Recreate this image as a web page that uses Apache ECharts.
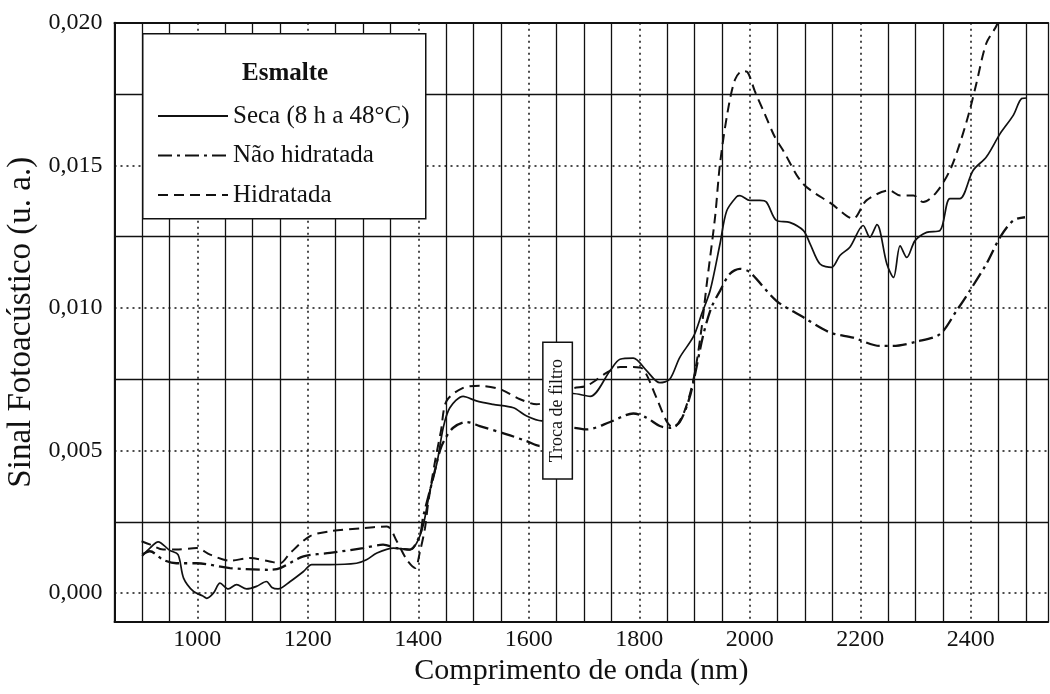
<!DOCTYPE html>
<html>
<head>
<meta charset="utf-8">
<script src="https://cdn.jsdelivr.net/npm/echarts@6/dist/echarts.min.js"></script>
<style>
html,body{margin:0;padding:0;background:#fff;}
#chart{width:1050px;height:694px;}
</style>
</head>
<body>
<div id="chart"></div>
<script>
// ---- data ----
const seriesNames = ['Seca (8 h a 48°C)', 'Não hidratada', 'Hidratada'];
const legendTitle = 'Esmalte';
const noteText = 'Troca de filtro';
const notePos = [1652, 0.0064];

const secaX = [900, 915, 929, 950, 965, 975, 993, 1010, 1017, 1029, 1041, 1056, 1071, 1089, 1107, 1125, 1135, 1146, 1168, 1192, 1207, 1240, 1288, 1306, 1325, 1355, 1385, 1397, 1409, 1421, 1434, 1445, 1457, 1481, 1505, 1535, 1572, 1596, 1623, 1650, 1680, 1711, 1747, 1765, 1789, 1813, 1837, 1855, 1873, 1898, 1913, 1928, 1946, 1958, 1976, 1982, 2000, 2018, 2030, 2048, 2072, 2097, 2109, 2127, 2148, 2163, 2181, 2205, 2217, 2230, 2248, 2260, 2272, 2284, 2299, 2320, 2344, 2362, 2380, 2404, 2428, 2453, 2477, 2492, 2501];
const secaY = [0.0013, 0.0016, 0.0018, 0.0015, 0.00135, 0.00053, 0.00006, -0.0001, -0.00018, 0.0, 0.00035, 0.00015, 0.0003, 0.00015, 0.00024, 0.00041, 0.0002, 0.00015, 0.00041, 0.00076, 0.001, 0.001, 0.00105, 0.00117, 0.00141, 0.00158, 0.00153, 0.00176, 0.0024, 0.0036, 0.0046, 0.0058, 0.0065, 0.0069, 0.00674, 0.00662, 0.0065, 0.00621, 0.00604, 0.0065, 0.007, 0.0069, 0.0078, 0.0082, 0.00824, 0.0078, 0.00738, 0.0075, 0.00826, 0.009, 0.0098, 0.0106, 0.01225, 0.0134, 0.0139, 0.01394, 0.01377, 0.01377, 0.01371, 0.01307, 0.013, 0.01271, 0.01225, 0.01154, 0.01142, 0.01184, 0.01213, 0.01289, 0.01248, 0.01292, 0.01154, 0.01107, 0.01218, 0.01177, 0.01236, 0.01265, 0.01271, 0.01383, 0.01383, 0.01482, 0.01529, 0.01611, 0.01676, 0.01734, 0.01736];

const naoX = [900, 914, 938, 962, 999, 1059, 1131, 1150, 1192, 1240, 1300, 1336, 1361, 1385, 1403, 1409, 1425, 1439, 1448, 1463, 1487, 1511, 1560, 1596, 1620, 1650, 1680, 1705, 1747, 1789, 1813, 1837, 1855, 1873, 1890, 1900, 1915, 1930, 1946, 1964, 1982, 2000, 2048, 2097, 2145, 2187, 2235, 2259, 2302, 2344, 2374, 2398, 2428, 2453, 2477, 2498];
const naoY = [0.00135, 0.00147, 0.00117, 0.00105, 0.00105, 0.00088, 0.00082, 0.00088, 0.00129, 0.00141, 0.00158, 0.0017, 0.00158, 0.00153, 0.00205, 0.0027, 0.0039, 0.005, 0.0054, 0.0058, 0.006, 0.00586, 0.00557, 0.00533, 0.00516, 0.0055, 0.0058, 0.00574, 0.006, 0.0063, 0.00615, 0.00586, 0.0058, 0.006, 0.0068, 0.0076, 0.009, 0.01, 0.0106, 0.0112, 0.01137, 0.01125, 0.01025, 0.00967, 0.00914, 0.00896, 0.00867, 0.00867, 0.00882, 0.00908, 0.0099, 0.0106, 0.01154, 0.01248, 0.01307, 0.01318];

const hidX = [899, 915, 938, 962, 999, 1023, 1059, 1095, 1131, 1150, 1168, 1204, 1240, 1300, 1343, 1361, 1379, 1394, 1403, 1412, 1418, 1430, 1441, 1451, 1481, 1511, 1548, 1584, 1614, 1650, 1680, 1705, 1741, 1765, 1789, 1807, 1831, 1849, 1861, 1880, 1898, 1912, 1922, 1937, 1946, 1960, 1973, 1986, 1996, 2009, 2027, 2045, 2060, 2096, 2148, 2187, 2211, 2253, 2272, 2296, 2314, 2338, 2362, 2380, 2398, 2410, 2428, 2447, 2460];
const hidY = [0.00182, 0.0017, 0.00153, 0.00153, 0.00158, 0.00135, 0.00114, 0.00123, 0.00111, 0.00105, 0.00141, 0.002, 0.00217, 0.00228, 0.00234, 0.00182, 0.00117, 0.00088, 0.00147, 0.00228, 0.0032, 0.0046, 0.0057, 0.00674, 0.0072, 0.00727, 0.00715, 0.0068, 0.00662, 0.0069, 0.00718, 0.00727, 0.00773, 0.00793, 0.00793, 0.00785, 0.00685, 0.00604, 0.0058, 0.0063, 0.0075, 0.0092, 0.01084, 0.01318, 0.01506, 0.0169, 0.018, 0.0183, 0.01826, 0.0176, 0.0168, 0.016, 0.01553, 0.01436, 0.01365, 0.01313, 0.01377, 0.01412, 0.01394, 0.01394, 0.01371, 0.01406, 0.01482, 0.01576, 0.01693, 0.01787, 0.01928, 0.01992, 0.0207];

// axis settings
const xMin = 850, xMax = 2540, xStep = 50, xLabelStep = 200;
const yMin = -0.001, yMax = 0.020, yStep = 0.00025, yLabelStep = 0.005, yMinorStep = 0.0025;

// ---- build ----
const zip = (xs, ys) => xs.map((x, i) => [x, ys[i]]);
const INK = '#111';
const NONE = 'rgba(0,0,0,0)';
const FONT = 'Liberation Serif';

// colour cycles for split lines (ticks counted from min)
const xPeriod = xLabelStep / xStep; // 4
const xOffset = Math.round(((Math.ceil(xMin / xLabelStep) * xLabelStep) - xMin) / xStep) % xPeriod;
const xSolidColors = [], xDotColors = [];
for (let i = 0; i < xPeriod; i++) {
  xSolidColors.push(i === xOffset ? NONE : INK);
  xDotColors.push(i === xOffset ? INK : NONE);
}
const yPeriod = Math.round(yLabelStep / yStep); // 20
const yZeroIdx = Math.round((0 - yMin) / yStep); // 4
const yDotColors = [], ySolidColors = [];
for (let i = 0; i < yPeriod; i++) {
  yDotColors.push(i === yZeroIdx % yPeriod ? INK : NONE);
  ySolidColors.push(i === (yZeroIdx + Math.round(yMinorStep / yStep)) % yPeriod ? INK : NONE);
}

const chart = echarts.init(document.getElementById('chart'), null, {renderer: 'canvas'});

const lineBase = {
  type: 'line', showSymbol: false, symbol: 'none', smooth: 0.3,
  xAxisIndex: 0, yAxisIndex: 0, clip: true, animation: false
};

const option = {
  backgroundColor: '#fff',
  animation: false,
  textStyle: {fontFamily: FONT, color: INK},
  grid: {left: 114.5, top: 22.7, right: 1.8, bottom: 72.3, outerBoundsMode: 'none', containLabel: false},
  xAxis: [{
    type: 'value', position: 'bottom', min: xMin, max: xMax, interval: xStep,
    axisLine: {show: true, onZero: false, lineStyle: {color: INK, width: 2}},
    axisTick: {show: false},
    axisLabel: {
      fontFamily: FONT, fontSize: 24, color: INK, margin: 6,
      formatter: v => (Math.round(v) % xLabelStep === 0 ? String(Math.round(v)) : '')
    },
    splitLine: {show: true, lineStyle: {color: xSolidColors, width: 1.3, type: 'solid'}},
    name: 'Comprimento de onda (nm)', nameLocation: 'middle', nameGap: 26,
    nameTextStyle: {fontFamily: FONT, fontSize: 30, color: INK}
  }, {
    type: 'value', position: 'top', min: xMin, max: xMax, interval: xStep,
    axisLine: {show: true, onZero: false, lineStyle: {color: INK, width: 2}},
    axisTick: {show: false}, axisLabel: {show: false},
    splitLine: {show: true, lineStyle: {color: xDotColors, width: 1.5, type: [2, 4]}}
  }],
  yAxis: [{
    type: 'value', position: 'left', min: yMin, max: yMax, interval: yStep,
    axisLine: {show: true, onZero: false, lineStyle: {color: INK, width: 2}},
    axisTick: {show: false},
    axisLabel: {
      fontFamily: FONT, fontSize: 24, color: INK, margin: 12,
      formatter: v => {
        const k = Math.round(v * 1e5);
        return (k % Math.round(yLabelStep * 1e5) === 0) ? (k / 1e5).toFixed(3).replace('.', ',') : '';
      }
    },
    splitLine: {show: true, lineStyle: {color: yDotColors, width: 1.5, type: [2, 4]}},
    name: 'Sinal Fotoacústico (u. a.)', nameLocation: 'middle', nameGap: 72,
    nameTextStyle: {fontFamily: FONT, fontSize: 33, color: INK}
  }, {
    type: 'value', position: 'right', min: yMin, max: yMax, interval: yStep,
    axisLine: {show: false, onZero: false}, axisTick: {show: false}, axisLabel: {show: false},
    splitLine: {show: true, lineStyle: {color: ySolidColors, width: 1.3, type: 'solid'}}
  }],
  legend: {
    data: seriesNames, orient: 'vertical', left: 157, top: 103, padding: 0,
    itemWidth: 70, itemHeight: 14, itemGap: 13.5, z: 200,
    itemStyle: {opacity: 0},
    textStyle: {fontFamily: FONT, fontSize: 25, color: INK, lineHeight: 26}
  },
  graphic: [{
    type: 'rect', z: 100, left: 142, top: 33,
    shape: {width: 283, height: 185},
    style: {fill: '#fff', stroke: INK, lineWidth: 1.5}
  }, {
    type: 'text', z: 101, left: 242, top: 61,
    style: {text: legendTitle, font: 'bold 25px "Liberation Serif"', fill: INK}
  }],
  series: [
    Object.assign({}, lineBase, {name: seriesNames[0], data: zip(secaX, secaY), z: 3,
      lineStyle: {color: INK, width: 1.7, type: 'solid'}, itemStyle: {color: INK}}),
    Object.assign({}, lineBase, {name: seriesNames[1], data: zip(naoX, naoY), z: 3,
      lineStyle: {color: INK, width: 2.3, type: [14, 5, 3, 5]}, itemStyle: {color: INK}}),
    Object.assign({}, lineBase, {name: seriesNames[2], data: zip(hidX, hidY), z: 3,
      lineStyle: {color: INK, width: 2, type: [10, 6]}, itemStyle: {color: INK}}),
    {
      type: 'line', data: [], xAxisIndex: 0, yAxisIndex: 0, z: 20, silent: true,
      markPoint: {
        symbol: 'circle', symbolSize: 0, silent: true, animation: false,
        label: {show: true, position: 'inside', rotate: 90, formatter: noteText,
          fontFamily: FONT, fontSize: 18, color: INK, lineHeight: 20,
          backgroundColor: '#fff', borderColor: INK, borderWidth: 1.5,
          padding: [4, 16, 4, 16]},
        data: [{coord: notePos}]
      }
    }
  ]
};
chart.setOption(option);
</script>
</body>
</html>
